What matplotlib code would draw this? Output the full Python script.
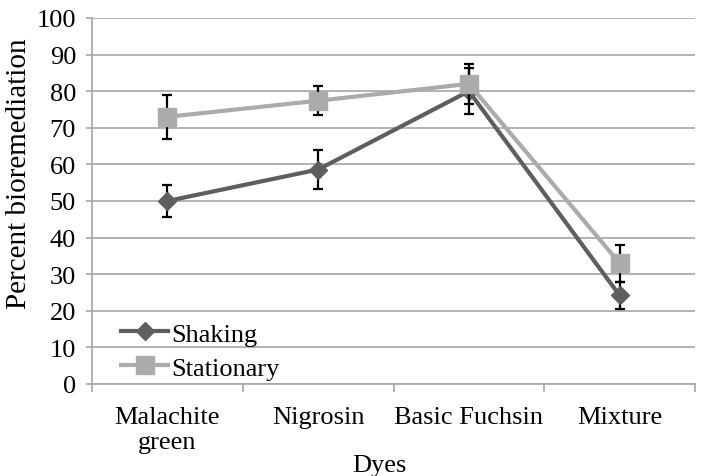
import numpy as np
import matplotlib
matplotlib.use("Agg")
from matplotlib import pyplot as plt

plt.rcParams['font.family'] = ['Liberation Serif', 'DejaVu Serif']

# data
dyes = ["Malachite\ngreen", "Nigrosin", "Basic Fuchsin", "Mixture"]
shaking = [50.0, 58.6, 80.0, 24.2]
shaking_err = [4.4, 5.4, 6.3, 3.7]
stationary = [73.0, 77.4, 82.0, 33.0]
stationary_err = [6.0, 4.0, 5.5, 5.0]

grid_col = '#A6A6A6'
dark = '#5E5E5E'
light = '#ABABAB'
fs = 19

fig = plt.figure(figsize=(7.08, 4.77), dpi=100)
ax = fig.add_axes([92/708, 1 - 385/477, (695 - 92)/708, (385 - 19)/477])

x = np.arange(len(dyes))

# shaking series
ax.errorbar(x, shaking, yerr=shaking_err, fmt='none', ecolor='black',
            elinewidth=1.6, capsize=3.8, capthick=1.6, zorder=3)
ax.plot(x, shaking, color=dark, lw=3, marker='D', ms=9.5,
        mfc=dark, mec=dark, label='Shaking', zorder=4)

# stationary series
ax.errorbar(x, stationary, yerr=stationary_err, fmt='none', ecolor='black',
            elinewidth=1.6, capsize=3.8, capthick=1.6, zorder=5)
ax.plot(x, stationary, color=light, lw=3, marker='s', ms=13,
        mfc=light, mec=light, label='Stationary', zorder=6)

ax.set_xlim(-0.5, len(dyes) - 0.5)
ax.set_ylim(0, 100)
ax.set_yticks(np.arange(0, 101, 10))
ax.yaxis.grid(True, color=grid_col, lw=1.2)
ax.set_axisbelow(True)

for s in ['top', 'right']:
    ax.spines[s].set_visible(False)
for s in ['left', 'bottom']:
    ax.spines[s].set_color(grid_col)
    ax.spines[s].set_linewidth(1.2)

ax.set_xticks(x)
ax.set_xticklabels(dyes, fontsize=fs, linespacing=1.15)
ax.set_xticks(np.arange(-0.5, len(dyes), 1.0), minor=True)
ax.tick_params(axis='x', which='major', length=0, pad=16)
ax.tick_params(axis='x', which='minor', length=6, width=1.2, color=grid_col)
ax.tick_params(axis='y', length=4.5, width=1.2, color=grid_col, labelsize=fs, pad=7)

ax.set_ylabel('Percent bioremediation', fontsize=21)
ax.yaxis.set_label_coords(-0.1, (385 - 174)/366)
ax.set_xlabel('Dyes', fontsize=fs)
ax.xaxis.set_label_coords((379 - 92)/(695 - 92), -0.19)

ax.legend(loc='lower left', bbox_to_anchor=(0.048, 0.012), frameon=False,
          fontsize=fs, handlelength=1.8, handletextpad=0.12, labelspacing=0.4,
          borderpad=0, borderaxespad=0)

fig.savefig('out.png', dpi=100)
